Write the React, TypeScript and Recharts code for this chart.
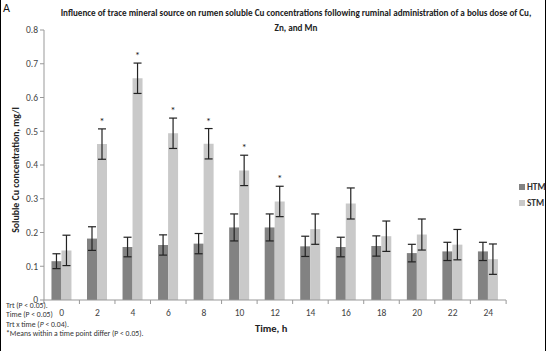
import { Bar, BarChart, ErrorBar, LabelList, XAxis, YAxis } from 'recharts';

const times = ['0', '2', '4', '6', '8', '10', '12', '14', '16', '18', '20', '22', '24'];
const htm = [0.115, 0.182, 0.157, 0.163, 0.167, 0.215, 0.215, 0.159, 0.157, 0.16, 0.139, 0.144, 0.144];
const htmErr = [0.022, 0.035, 0.029, 0.03, 0.03, 0.04, 0.04, 0.03, 0.029, 0.03, 0.026, 0.027, 0.027];
const stm = [0.147, 0.462, 0.657, 0.494, 0.463, 0.384, 0.292, 0.21, 0.286, 0.189, 0.194, 0.164, 0.121];
const stmErr = [0.045, 0.045, 0.045, 0.045, 0.045, 0.045, 0.045, 0.045, 0.046, 0.045, 0.046, 0.045, 0.045];
const differs = [false, true, true, true, true, true, true, false, false, false, false, false, false];
const yTicks = [0, 0.1, 0.2, 0.3, 0.4, 0.5, 0.6, 0.7, 0.8];

const data = times.map((t, i) => ({
  time: t,
  HTM: htm[i],
  htmErr: htmErr[i],
  STM: stm[i],
  stmErr: stmErr[i],
  star: differs[i] ? '*' : '',
}));

const W = 546;
const H = 351;
const margin = { top: 30, right: 38, left: 0, bottom: 21 };
const yAxisWidth = 43;
const plotWidth = W - margin.left - margin.right - yAxisWidth;
const step = plotWidth / times.length;
const font = 'Calibri, Carlito, "Liberation Sans", Arial, sans-serif';

function TimeTick(props: any) {
  const { x, y, payload, index } = props;
  const last = index === times.length - 1;
  return (
    <g>
      <line x1={x - step / 2} x2={x - step / 2} y1={y - 8} y2={y - 4} stroke="#999" />
      {last && <line x1={x + step / 2} x2={x + step / 2} y1={y - 8} y2={y - 4} stroke="#999" />}
      <text x={x} y={y + 8} textAnchor="middle" fontSize={9.5} fill="#444" fontFamily={font}>
        {payload.value}
      </text>
    </g>
  );
}

function Star(props: any) {
  const { x, y, width, height, value, index } = props;
  if (!value) return null;
  const perUnit = height / stm[index];
  const capY = y - stmErr[index] * perUnit;
  return (
    <text x={x + width / 2} y={capY - 4} textAnchor="middle" fontSize={11} fill="#222" fontFamily={font}>
      *
    </text>
  );
}

function YLabel() {
  return (
    <text
      x={15}
      y={170}
      transform="rotate(-90 15 170)"
      textAnchor="middle"
      dominantBaseline="central"
      fontSize={9.8}
      fontWeight="bold"
      fill="#222"
      fontFamily={font}
    >
      Soluble Cu concentration, mg/l
    </text>
  );
}

export default function App() {
  return (
    <div
      style={{
        position: 'absolute',
        left: 0,
        top: 0,
        width: W,
        height: H,
        background: '#fff',
        boxSizing: 'border-box',
        borderLeft: '1.5px solid #000',
        borderRight: '1.5px solid #000',
        fontFamily: font,
      }}
    >
      <div style={{ position: 'absolute', left: 2, top: 1, fontSize: 12, color: '#111' }}>A</div>
      <div
        style={{
          position: 'absolute',
          left: 40,
          width: 510,
          top: 6,
          textAlign: 'center',
          fontSize: 9.1,
          fontWeight: 'bold',
          lineHeight: '14.5px',
          color: '#222',
          whiteSpace: 'nowrap',
        }}
      >
        Influence of trace mineral source on rumen soluble Cu concentrations following ruminal administration of a bolus dose of Cu,
        <br />
        Zn, and Mn
      </div>
      <div style={{ position: 'absolute', left: 0, top: 0 }}>
        <BarChart width={W - 3} height={H} data={data} margin={margin} barCategoryGap="21%" barGap={0}>
          <XAxis
            dataKey="time"
            tick={<TimeTick />}
            tickLine={false}
            axisLine={{ stroke: '#999' }}
            interval={0}
            height={30}
          />
          <YAxis
            domain={[0, 0.8]}
            ticks={yTicks}
            width={yAxisWidth}
            tick={{ fontSize: 9.5, fill: '#444', fontFamily: font }}
            tickLine={{ stroke: '#999' }}
            tickSize={4}
            axisLine={{ stroke: '#999' }}
            label={<YLabel />}
          />
          <Bar dataKey="HTM" fill="#828282" isAnimationActive={false}>
            <ErrorBar dataKey="htmErr" width={4} stroke="#222" strokeWidth={1.2} />
          </Bar>
          <Bar dataKey="STM" fill="#c9c9c9" isAnimationActive={false}>
            <ErrorBar dataKey="stmErr" width={4} stroke="#222" strokeWidth={1.2} />
            <LabelList dataKey="star" content={<Star />} />
          </Bar>
        </BarChart>
      </div>
      <div
        style={{
          position: 'absolute',
          left: 254,
          top: 322,
          fontSize: 10.5,
          fontWeight: 'bold',
          color: '#222',
        }}
      >
        Time, h
      </div>
      <div style={{ position: 'absolute', left: 518, top: 179, fontSize: 9.3, fontWeight: 'bold', color: '#333', lineHeight: '16px' }}>
        <div style={{ display: 'flex', alignItems: 'center' }}>
          <span style={{ width: 6, height: 6, background: '#828282', marginRight: 2 }} />
          HTM
        </div>
        <div style={{ display: 'flex', alignItems: 'center' }}>
          <span style={{ width: 6, height: 6, background: '#c9c9c9', marginRight: 2 }} />
          STM
        </div>
      </div>
      <div style={{ position: 'absolute', left: 5, top: 301, fontSize: 7.7, lineHeight: '9.3px', color: '#333', whiteSpace: 'nowrap' }}>
        <div>Trt (P &lt; 0.05).</div>
        <div>Time (P &lt; 0.05)</div>
        <div>
          Trt x time (<i>P</i> &lt; 0.04).
        </div>
        <div>*Means within a time point differ (P &lt; 0.05).</div>
      </div>
    </div>
  );
}
